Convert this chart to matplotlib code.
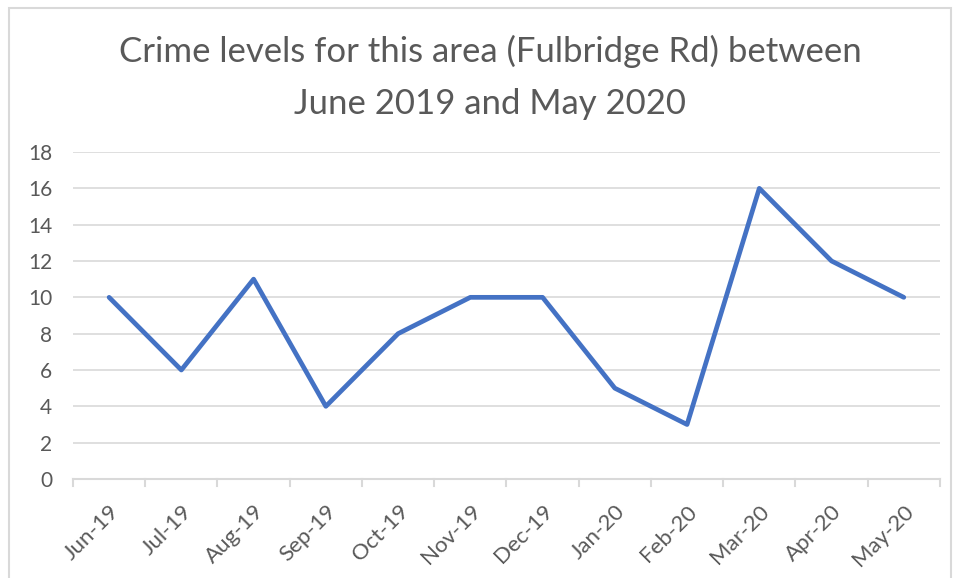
import matplotlib.pyplot as plt
from matplotlib.patches import Rectangle

# data
months = ['Jun-19', 'Jul-19', 'Aug-19', 'Sep-19', 'Oct-19', 'Nov-19',
          'Dec-19', 'Jan-20', 'Feb-20', 'Mar-20', 'Apr-20', 'May-20']
crimes = [10, 6, 11, 4, 8, 10, 10, 5, 3, 16, 12, 10]
yticks = [0, 2, 4, 6, 8, 10, 12, 14, 16, 18]

plt.rcParams['font.family'] = ['Lato', 'DejaVu Sans']
text_col = '#595959'
grid_col = '#d9d9d9'

fig = plt.figure(figsize=(9.59, 5.78), dpi=100)
ax = fig.add_axes([0.0761, 0.1713, 0.904, 0.5657])

x = range(len(months))
ax.plot(x, crimes, color='#4472C4', linewidth=3.4, solid_joinstyle='round',
        solid_capstyle='round')

ax.set_xlim(-0.5, len(months) - 0.5)
ax.set_ylim(0, 18)
ax.set_yticks(yticks)
ax.set_yticklabels([str(v) for v in yticks])
ax.set_xticks(list(x))
ax.set_xticklabels(months, rotation=45, ha='right', rotation_mode='anchor')
ax.tick_params(axis='y', length=0, pad=15, labelsize=15, labelcolor=text_col)
ax.tick_params(axis='x', length=0, pad=16, labelsize=16, labelcolor=text_col)

# boundary tick marks between categories
for b in range(len(months) + 1):
    ax.plot([b - 0.5, b - 0.5], [0, -0.4], color=grid_col, lw=1.5,
            clip_on=False, zorder=1)

ax.grid(axis='y', color=grid_col, linewidth=1.2)
ax.set_axisbelow(True)
for s in ['top', 'right', 'left']:
    ax.spines[s].set_visible(False)
ax.spines['bottom'].set_color(grid_col)
ax.spines['bottom'].set_linewidth(1.5)

fig.text(0.511, 0.866, 'Crime levels for this area (Fulbridge Rd) between\nJune 2019 and May 2020',
         ha='center', va='center', fontsize=25, color=text_col, linespacing=1.75)

# chart border
fig.patches.append(Rectangle((9 / 959, -0.01), 942 / 959, 1 - 8 / 578 + 0.01,
                             transform=fig.transFigure, fill=False,
                             edgecolor=grid_col, linewidth=1.5))

plt.savefig('out.png', dpi=100)
